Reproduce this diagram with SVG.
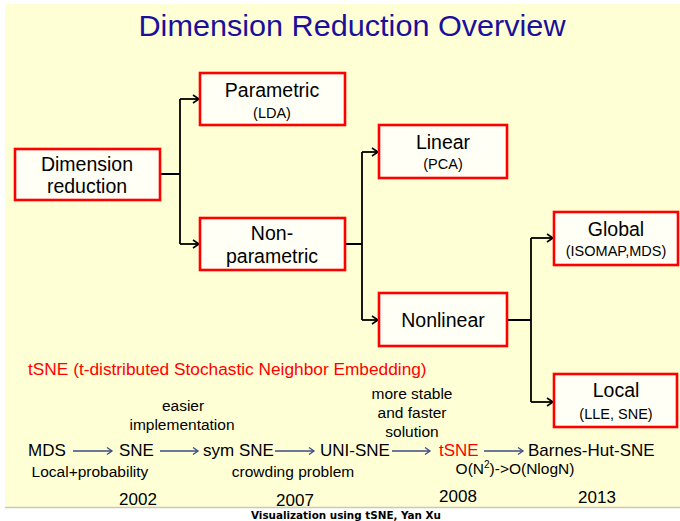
<svg xmlns="http://www.w3.org/2000/svg" width="680" height="521" viewBox="0 0 680 521">
<defs>
<marker id="ah" markerWidth="10" markerHeight="10" refX="8" refY="5" orient="auto" markerUnits="userSpaceOnUse">
<path d="M2,1 L8,5 L2,9" fill="none" stroke="#000" stroke-width="1.6"/>
</marker>
<marker id="ta" markerWidth="10" markerHeight="10" refX="8" refY="5" orient="auto" markerUnits="userSpaceOnUse">
<path d="M3,1.5 L8,5 L3,8.5" fill="none" stroke="#3b4c80" stroke-width="1.3"/>
</marker>
<style>
.box{fill:#FFFFF6;stroke:#FF0000;stroke-width:2.6}
.t{font-family:"Liberation Sans",Arial,sans-serif;fill:#000;text-anchor:middle}
.big{font-size:19.5px}
.sub{font-size:14.5px}
.tl{font-family:"Liberation Sans",Arial,sans-serif;fill:#000;font-size:17px}
.sm{font-family:"Liberation Sans",Arial,sans-serif;fill:#000;font-size:15.5px;text-anchor:middle}
.con{fill:none;stroke:#000;stroke-width:1.8}
.tar{fill:none;stroke:#3b4c80;stroke-width:1.4}
</style>
</defs>
<rect x="0" y="0" width="680" height="521" fill="#FFFFFF"/>
<rect x="5" y="4" width="675" height="503" fill="#FFFFD6"/>
<line x1="5" y1="507.5" x2="680" y2="507.5" stroke="#C8C8C0" stroke-width="1.5"/>
<text x="352" y="36" font-family="'Liberation Sans',Arial,sans-serif" font-size="30" fill="#1B0F9C" text-anchor="middle" textLength="427" lengthAdjust="spacingAndGlyphs">Dimension Reduction Overview</text>

<g id="connectors">
<path class="con" d="M160,174 H180 M180,99 V244"/>
<path class="con" d="M180,99 H199" marker-end="url(#ah)"/>
<path class="con" d="M180,244 H199" marker-end="url(#ah)"/>
<path class="con" d="M345,244 H362 M362,152 V320"/>
<path class="con" d="M362,152 H378" marker-end="url(#ah)"/>
<path class="con" d="M362,320 H378" marker-end="url(#ah)"/>
<path class="con" d="M507,320 H531 M531,238 V402"/>
<path class="con" d="M531,238 H553" marker-end="url(#ah)"/>
<path class="con" d="M531,402 H553" marker-end="url(#ah)"/>
</g>

<g id="dim">
<rect class="box" x="15" y="149" width="145" height="51"/>
<text class="t big" x="87" y="171">Dimension</text>
<text class="t big" x="87" y="193">reduction</text>
</g>
<g id="parametric">
<rect class="box" x="200" y="73" width="145" height="52"/>
<text class="t big" x="272" y="97">Parametric</text>
<text class="t sub" x="272" y="118">(LDA)</text>
</g>
<g id="nonparametric">
<rect class="box" x="200" y="218" width="145" height="52"/>
<text class="t big" x="272" y="240">Non-</text>
<text class="t big" x="272" y="263">parametric</text>
</g>
<g id="linear">
<rect class="box" x="379" y="125" width="128" height="53"/>
<text class="t big" x="443" y="149">Linear</text>
<text class="t sub" x="443" y="169">(PCA)</text>
</g>
<g id="nonlinear">
<rect class="box" x="379" y="293" width="128" height="53"/>
<text class="t big" x="443" y="327">Nonlinear</text>
</g>
<g id="global">
<rect class="box" x="554" y="212" width="124" height="53"/>
<text class="t big" x="616" y="236">Global</text>
<text class="t sub" x="616" y="256">(ISOMAP,MDS)</text>
</g>
<g id="local">
<rect class="box" x="554" y="374" width="123" height="53"/>
<text class="t big" x="616" y="397">Local</text>
<text class="t sub" x="616" y="419">(LLE, SNE)</text>
</g>

<text x="28" y="375" font-family="'Liberation Sans',Arial,sans-serif" font-size="17.3" fill="#FF0000">tSNE (t-distributed Stochastic Neighbor Embedding)</text>

<g id="timeline-arrows">
<path class="tar" d="M73,451 H112" marker-end="url(#ta)"/>
<path class="tar" d="M160,451 H198" marker-end="url(#ta)"/>
<path class="tar" d="M275,451 H314" marker-end="url(#ta)"/>
<path class="tar" d="M392,451 H430" marker-end="url(#ta)"/>
<path class="tar" d="M484,451 H523" marker-end="url(#ta)"/>
</g>
<g id="timeline">
<text class="tl" x="28" y="456">MDS</text>
<text class="tl" x="119" y="456">SNE</text>
<text class="tl" x="203" y="456">sym SNE</text>
<text class="tl" x="320" y="456">UNI-SNE</text>
<text class="tl" x="439" y="456" style="fill:#FF0000">tSNE</text>
<text class="tl" x="528" y="456">Barnes-Hut-SNE</text>
<text class="sm" x="90" y="477">Local+probability</text>
<text class="sm" x="293" y="477">crowding problem</text>
<text class="sm" x="183" y="411">easier</text>
<text class="sm" x="182" y="430">implementation</text>
<text class="sm" x="412" y="399">more stable</text>
<text class="sm" x="412" y="418">and faster</text>
<text class="sm" x="412" y="437">solution</text>
<text class="sm" x="515" y="474">O(N<tspan font-size="10" dy="-6">2</tspan><tspan dy="6">)-&gt;O(NlogN)</tspan></text>
<text class="t" font-size="17" x="138" y="505">2002</text>
<text class="t" font-size="17" x="295" y="506">2007</text>
<text class="t" font-size="17" x="458" y="502">2008</text>
<text class="t" font-size="17" x="597" y="503">2013</text>
</g>
<text x="346" y="519" font-family="'DejaVu Sans',Verdana,sans-serif" font-weight="bold" font-size="10.5" fill="#000" text-anchor="middle" textLength="190" lengthAdjust="spacingAndGlyphs">Visualization using tSNE, Yan Xu</text>
</svg>
